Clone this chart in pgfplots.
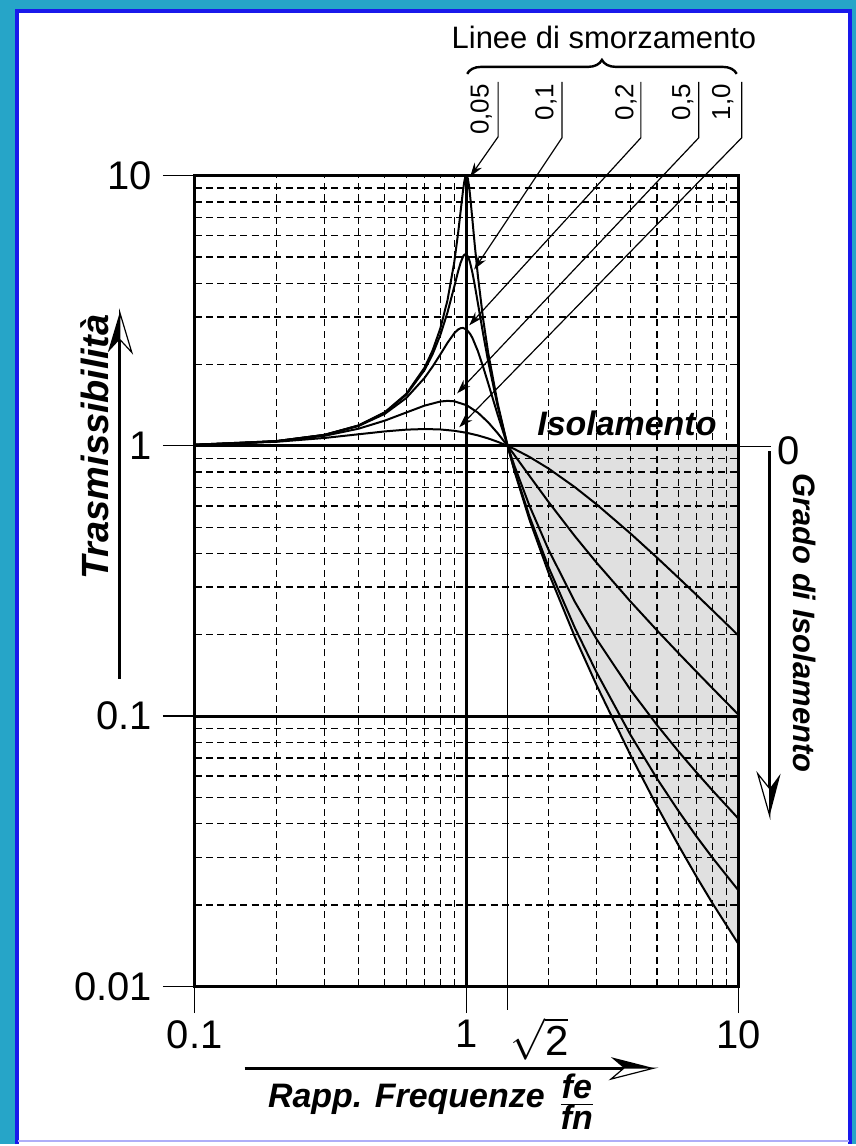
\documentclass[border=0pt]{standalone}
\usepackage{pgfplots}
\pgfplotsset{compat=1.18}
\usepackage{fontspec}
\setmainfont{Liberation Sans}
\usetikzlibrary{arrows.meta,decorations.pathreplacing}
\definecolor{teal1}{RGB}{38,165,200}
\definecolor{blueb}{RGB}{25,25,235}
\definecolor{shade}{RGB}{224,224,224}
\newcommand{\bi}{\bfseries\itshape}
\begin{document}
\begin{tikzpicture}
\begin{scope}[shift={(-97.5pt,494pt)},x=0.5pt,y=-0.5pt]
 \fill[teal1] (0,0) rectangle (857,1146);
 \fill[white] (18,12) rectangle (850,1146);
 \draw[blueb,line width=2pt] (17,1146) -- (17,11) -- (851,11) -- (851,1146);
 \draw[blueb!35,line width=1.2pt] (18,1143) -- (850,1143);
\end{scope}
\begin{axis}[at={(0,0)}, anchor=south west, scale only axis,
 width=272.5pt, height=406pt,
 xmode=log, ymode=log, xmin=0.1, xmax=10, ymin=0.01, ymax=10,
 axis on top,
 xtick={0.2,0.3,0.4,0.5,0.6,0.7,0.8,0.9,2,3,4,5,6,7,8,9}, xticklabels={},
 ytick={0.02,0.03,0.04,0.05,0.06,0.07,0.08,0.09,0.2,0.3,0.4,0.5,0.6,0.7,0.8,0.9,2,3,4,5,6,7,8,9}, yticklabels={},
 minor tick num=0,
 tick align=outside, major tick length=0pt, minor tick length=0pt,
 xtick pos=bottom, ytick pos=left,
 every tick/.style={black, line width=0.6pt},
 xmajorgrids, ymajorgrids,
 major grid style={black, line width=0.7pt, dash pattern=on 3.5pt off 2.2pt},
 extra x ticks={0.1,1,10}, extra x tick labels={0.1,1,10},
 extra x tick style={major tick length=13.5pt, major grid style={black, solid, line width=1.5pt}},
 extra y ticks={0.01,0.1,1,10}, extra y tick labels={0.01,0.1,1,10},
 extra y tick style={major tick length=16pt, major grid style={black, solid, line width=1.5pt}},
 axis line style={line width=1.75pt},
 tick label style={font=\fontsize{20}{23}\selectfont},
 yticklabel style={xshift=-2pt},
 /pgf/number format/assume math mode=true,
]
% shaded isolation zone
\addplot[fill=shade, draw=none] coordinates {(1.41421,1) (1.5,0.80319) (1.7,0.53453) (2,0.33918) (2.5,0.19612) (3,0.13041) (4,0.071777) (5,0.046575) (6,0.033315) (7,0.025428) (8,0.020326) (10,0.014284) (10,1)} --cycle;
% zeta = 0.05
\addplot[black, line width=1pt] coordinates {(0.1,1.0101) (0.15,1.02301) (0.2,1.04165) (0.3,1.0988) (0.4,1.19008) (0.5,1.33204) (0.6,1.55848) (0.7,1.94733) (0.75,2.25916) (0.8,2.72029) (0.85,3.45802) (0.9,4.77574) (0.93,6.12331) (0.95,7.379) (0.97,8.84522) (0.98,9.5062) (0.99,9.9513) (1.0,10.0499) (1.01,9.76) (1.02,9.1623) (1.03,8.4014) (1.05,6.8524) (1.07,5.5834) (1.1,4.24369) (1.15,2.93984) (1.2,2.20838) (1.3,1.4362) (1.41421,1) (1.5,0.80319) (1.7,0.53453) (2,0.33918) (2.5,0.19612) (3,0.13041) (4,0.071777) (5,0.046575) (6,0.033315) (7,0.025428) (8,0.020326) (10,0.014284)};
% zeta = 0.1
\addplot[black, line width=1pt] coordinates {(0.1,1.0101) (0.2,1.0416) (0.3,1.09849) (0.4,1.1889) (0.5,1.32822) (0.6,1.54676) (0.7,1.90927) (0.75,2.18633) (0.8,2.57065) (0.85,3.11693) (0.9,3.8822) (0.93,4.42457) (0.95,4.76633) (0.97,5.02284) (0.98,5.09615) (0.99,5.12274) (1.0,5.09902) (1.01,5.02566) (1.02,4.90761) (1.03,4.75295) (1.05,4.3727) (1.07,3.95696) (1.1,3.36662) (1.15,2.59041) (1.2,2.05188) (1.3,1.40128) (1.41421,1) (1.5,0.81216) (1.7,0.55002) (2,0.35586) (2.5,0.212) (3,0.14537) (4,0.085254) (5,0.058874) (6,0.044604) (7,0.035828) (8,0.02994) (10,0.022582)};
% zeta = 0.2
\addplot[black, line width=1pt] coordinates {(0.1,1.01008) (0.2,1.04139) (0.3,1.09729) (0.4,1.18433) (0.5,1.31383) (0.6,1.50456) (0.7,1.78489) (0.75,1.96808) (0.8,2.17984) (0.85,2.40668) (0.9,2.61097) (0.93,2.69587) (0.95,2.72684) (0.97,2.733) (1.0,2.69258) (1.03,2.59689) (1.05,2.5088) (1.1,2.24086) (1.15,1.95932) (1.2,1.70349) (1.3,1.30453) (1.41421,1) (1.5,0.84108) (1.7,0.60206) (2,0.41246) (2.5,0.26462) (3,0.1931) (4,0.12508) (5,0.092848) (6,0.074111) (7,0.061836) (8,0.053148) (10,0.041613)};
% zeta = 0.5
\addplot[black, line width=1pt] coordinates {(0.1,1.00504) (0.2,1.03997) (0.3,1.0896) (0.4,1.15763) (0.5,1.24035) (0.6,1.32934) (0.7,1.4094) (0.8,1.45979) (0.85,1.46781) (0.9,1.46261) (1.0,1.41421) (1.1,1.32749) (1.2,1.22214) (1.3,1.11439) (1.41421,1) (1.5,0.92329) (1.7,0.77587) (2,0.62017) (2.5,0.46305) (3,0.37012) (4,0.26559) (5,0.208) (6,0.17129) (7,0.14577) (8,0.12695) (10,0.101)};
% zeta = 1.0
\addplot[black, line width=1pt] coordinates {(0.1,1.00971) (0.2,1.03561) (0.3,1.0699) (0.4,1.10399) (0.5,1.13137) (0.6,1.14856) (0.7,1.15467) (0.8,1.15049) (0.9,1.13764) (1.0,1.11803) (1.1,1.09349) (1.2,1.06557) (1.3,1.03557) (1.41421,1) (1.5,0.97301) (1.7,0.91105) (2,0.82462) (2.5,0.70331) (3,0.60828) (4,0.47425) (5,0.38653) (6,0.32545) (7,0.28071) (8,0.24663) (10,0.19827)};
\end{axis}
\begin{scope}[shift={(-97.5pt,494pt)},x=0.5pt,y=-0.5pt]
 % sqrt(2) reference line and label
 \draw[line width=0.6pt] (508.3,447) -- (508.3,1012);
 \node[anchor=north west, inner sep=0pt, font=\fontsize{21}{24}\selectfont] at (511,1019) {$\sqrt{\mbox{2}}$};
 % y=1 extension on right
 \draw[line width=0.6pt] (740,447) -- (772,447);
 \node[font=\fontsize{20}{23}\selectfont] at (790,452) {0};
 % top labels
 \node[font=\fontsize{15.5}{18}\selectfont] at (605,38) {Linee di smorzamento};
 \draw[line width=1.2pt, decorate, decoration={brace, amplitude=7pt}] (468,74) -- (738,74);
 \foreach \x/\t in {482/{0,05}, 547/{0,1}, 627/{0,2}, 684/{0,5}, 724/{1,0}}
   \node[rotate=90, anchor=east, font=\fontsize{13}{15}\selectfont, inner sep=0pt] at (\x,84) {\t};
 \begin{scope}[line width=0.6pt, -{Stealth[length=7pt,width=4.5pt]}]
 \draw (499,82) -- (499,137) -- (471,177);
 \draw (563,82) -- (563,138) -- (475,270);
 \draw (642,82) -- (642,138) -- (470,326);
 \draw (700,82) -- (700,138) -- (458,394);
 \draw (743,82) -- (743,138) -- (460,428);
 \end{scope}
 \node[font=\fontsize{17}{20}\selectfont\bi] at (628,424) {Isolamento};
 % left arrow + label
 \draw[line width=1.6pt] (120,680) -- (120,338);
 \fill (120,313) -- (108,353) -- (120,340) -- cycle;
 \draw[line width=0.6pt, fill=white] (120,313) -- (132,353) -- (120,340) -- cycle;
 \node[rotate=90, font=\fontsize{19}{22}\selectfont\bi] at (95,448) {Trasmissibilità};
 % right arrow + label
 \draw[line width=1.2pt] (771,452) -- (771,790);
 \fill (771,817) -- (782,775) -- (771,790) -- cycle;
 \draw[line width=0.6pt, fill=white] (771,817) -- (759,775) -- (771,790) -- cycle;
 \node[rotate=-90, font=\fontsize{15.5}{18}\selectfont\bi] at (806,624) {Grado di Isolamento};
 % bottom arrow + label
 \draw[line width=1.6pt] (245,1070) -- (627,1070);
 \fill (655,1070) -- (612,1059) -- (625,1070) -- cycle;
 \draw[line width=0.6pt, fill=white] (655,1070) -- (612,1081) -- (625,1070) -- cycle;
 \node[anchor=east, inner sep=0pt, font=\fontsize{17}{20}\selectfont\bi] at (546,1101) {Rapp. Frequenze};
 \node[anchor=west, inner sep=0pt, font=\fontsize{17}{20}\selectfont\bi] at (559,1104) {$\frac{\mbox{\fontsize{17}{20}\selectfont\bi fe}}{\mbox{\fontsize{17}{20}\selectfont\bi fn}}$};
\end{scope}
\end{tikzpicture}
\end{document}
